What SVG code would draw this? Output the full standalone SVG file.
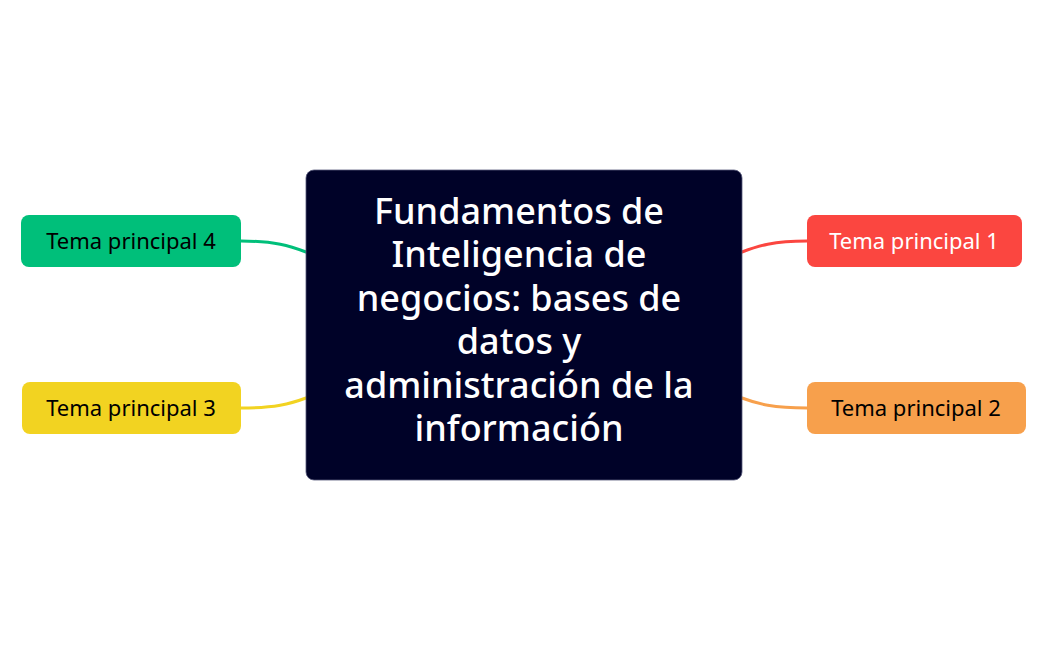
<svg xmlns="http://www.w3.org/2000/svg" width="1047" height="650" viewBox="0 0 1047 650">
<style>
.topic{font-family:"Noto Sans","Liberation Sans",sans-serif;font-size:22px;font-weight:400;text-anchor:middle;}
.main{font-family:"Noto Sans","Liberation Sans",sans-serif;font-size:36px;font-weight:500;fill:#ffffff;text-anchor:middle;}
.conn{fill:none;stroke-width:3;stroke-linecap:round;}
</style>
<rect x="0" y="0" width="1047" height="650" fill="#ffffff"/>
<g id="connectors">
<path class="conn" stroke="#00BF7A" d="M241,241 C275,241 290,246 306,252"/>
<path class="conn" stroke="#F2D321" d="M241,408 C275,408 290,404 306,398"/>
<path class="conn" stroke="#FB4640" d="M807,241 C773,241 758,246 742,252"/>
<path class="conn" stroke="#F7A04C" d="M807,408 C773,408 758,404 742,398"/>
</g>
<g id="central">
<rect x="306" y="170" width="436" height="310" rx="8" fill="#000228" stroke="#55587a" stroke-width="0.8"/>
<text class="main" x="519" y="224">Fundamentos de<tspan x="519" dy="43.4">Inteligencia de</tspan><tspan x="519" dy="43.4">negocios: bases de</tspan><tspan x="519" dy="43.4">datos y</tspan><tspan x="519" dy="43.4">administración de la</tspan><tspan x="519" dy="43.4">información</tspan></text>
</g>
<g id="topic4">
<rect x="21" y="215" width="220" height="52" rx="8" fill="#00BF7A"/>
<text class="topic" x="131" y="249" fill="#000000">Tema principal 4</text>
</g>
<g id="topic3">
<rect x="22" y="382" width="219" height="52" rx="8" fill="#F2D321"/>
<text class="topic" x="131" y="416" fill="#000000">Tema principal 3</text>
</g>
<g id="topic1">
<rect x="807" y="215" width="215" height="52" rx="8" fill="#FB4640"/>
<text class="topic" x="914" y="249" fill="#ffffff">Tema principal 1</text>
</g>
<g id="topic2">
<rect x="807" y="382" width="219" height="52" rx="8" fill="#F7A04C"/>
<text class="topic" x="916" y="416" fill="#000000">Tema principal 2</text>
</g>
</svg>
